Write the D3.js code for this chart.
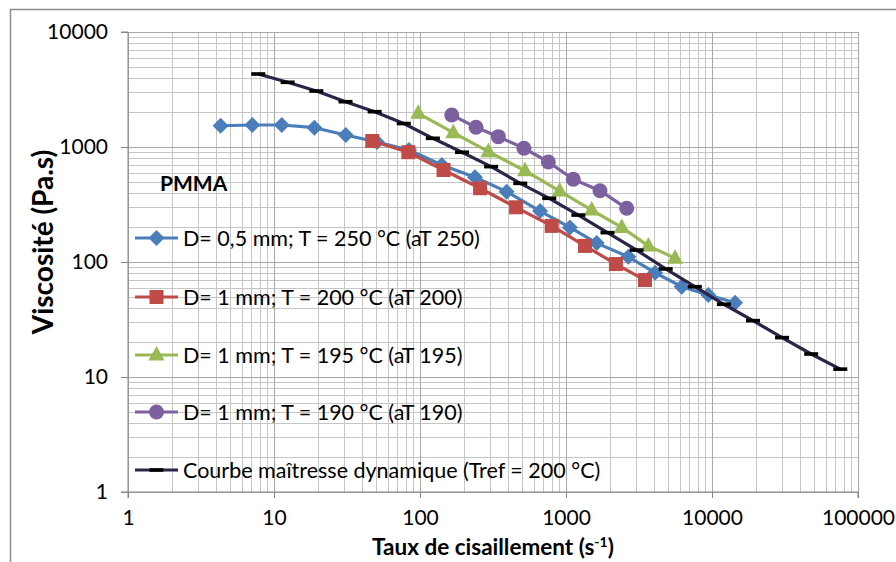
<!DOCTYPE html>
<html><head><meta charset="utf-8">
<script src="https://cdn.jsdelivr.net/npm/d3@7"></script>
<style>html,body{margin:0;padding:0;background:#fff;} svg{display:block;}</style>
</head><body>
<svg id="c" width="896" height="562"></svg>
<script>
const xTicks = [1, 10, 100, 1000, 10000, 100000];
const yTicks = [1, 10, 100, 1000, 10000];

const blueX = [4.31, 7.1, 11.3, 18.9, 31.0, 50.7, 84.1, 141, 238, 392, 664, 1064, 1623, 2673, 4073, 6200, 9437, 14380];
const blueY = [1531, 1553, 1553, 1472, 1270, 1105, 942, 697, 545, 409, 277, 200, 146, 111, 80.7, 61, 51.6, 44.3];

const redX = [47.1, 83.2, 145, 258, 455, 798, 1349, 2198, 3475];
const redY = [1128, 901, 631, 438, 299, 206, 138, 96, 69.7];

const greenX = [97.3, 169, 294, 524, 905, 1500, 2410, 3664, 5580];
const greenY = [1963, 1331, 910, 622, 414, 283, 200, 138, 108];

const purpleX = [165, 242, 344, 515, 757, 1122, 1709, 2604];
const purpleY = [1898, 1483, 1230, 975, 741, 524, 417, 293];

const masterX = [7.8, 12.4, 19.5, 30.9, 48.9, 77.4, 122.5, 194, 307, 486, 768, 1216, 1924, 3044, 4818, 7623, 12060, 19090, 30200, 47780, 75610];
const masterY = [4313, 3653, 3068, 2477, 2028, 1600, 1190, 900, 675, 483, 358, 256, 180, 127, 87, 61, 42.9, 30.9, 22, 15.85, 11.7];

const seriesNames = [
  "D= 0,5 mm; T = 250 °C (aT 250)",
  "D= 1 mm; T = 200 °C (aT 200)",
  "D= 1 mm; T = 195 °C (aT 195)",
  "D= 1 mm; T = 190 °C (aT 190)",
  "Courbe maîtresse dynamique (Tref = 200 °C)"
];

const series = [
  {name: seriesNames[0], xs: blueX, ys: blueY, color: "#4A7EBB", marker: "diamond"},
  {name: seriesNames[1], xs: redX, ys: redY, color: "#BE4B48", marker: "square"},
  {name: seriesNames[2], xs: greenX, ys: greenY, color: "#98B954", marker: "triangle"},
  {name: seriesNames[3], xs: purpleX, ys: purpleY, color: "#7D60A0", marker: "circle"},
  {name: seriesNames[4], xs: masterX, ys: masterY, color: "#2B2447", marker: "dash"}
];

const svg = d3.select("#c");
const FONT = "Lato, 'Open Sans', sans-serif";

const x = d3.scaleLog().domain([1, 100000]).range([128, 858]);
const y = d3.scaleLog().domain([1, 10000]).range([492, 32]);

// outer border
svg.append("rect").attr("x", 10.5).attr("y", 9.5).attr("width", 900).attr("height", 570)
  .attr("fill", "#fff").attr("stroke", "#8c8c8c").attr("stroke-width", 1.5);

// grid
const g = svg.append("g");
const minorVals = (lo, hi) => {
  const out = [];
  for (let d = lo; d < hi; d *= 10) for (let k = 2; k <= 9; k++) out.push(d * k);
  return out;
};
g.selectAll(".vx").data(minorVals(1, 100000)).join("line")
  .attr("x1", d => Math.round(x(d)) + 0.5).attr("x2", d => Math.round(x(d)) + 0.5)
  .attr("y1", y(10000)).attr("y2", y(1)).attr("stroke", "#c6c6c6").attr("stroke-width", 1);
g.selectAll(".vy").data(minorVals(1, 10000)).join("line")
  .attr("y1", d => Math.round(y(d)) + 0.5).attr("y2", d => Math.round(y(d)) + 0.5)
  .attr("x1", x(1)).attr("x2", x(100000)).attr("stroke", "#c6c6c6").attr("stroke-width", 1);
g.selectAll(".mx").data(xTicks).join("line")
  .attr("x1", d => Math.round(x(d)) + 0.5).attr("x2", d => Math.round(x(d)) + 0.5)
  .attr("y1", y(10000)).attr("y2", y(1)).attr("stroke", "#a8a8a8").attr("stroke-width", 1);
g.selectAll(".my").data(yTicks).join("line")
  .attr("y1", d => Math.round(y(d)) + 0.5).attr("y2", d => Math.round(y(d)) + 0.5)
  .attr("x1", x(1)).attr("x2", x(100000)).attr("stroke", "#a8a8a8").attr("stroke-width", 1);

// axes
const xAxis = d3.axisBottom(x).tickValues(xTicks).tickFormat(d3.format("d")).tickSize(6).tickPadding(12);
const yAxis = d3.axisLeft(y).tickValues(yTicks).tickFormat(d3.format("d")).tickSize(7).tickPadding(13);
const gx = svg.append("g").attr("transform", `translate(0,${y(1)})`).call(xAxis);
const gy = svg.append("g").attr("transform", `translate(${x(1)},0)`).call(yAxis);
[gx, gy].forEach(a => {
  a.select(".domain").attr("stroke", "#868686");
  a.selectAll(".tick line").attr("stroke", "#868686");
  a.selectAll("text").attr("font-family", FONT).attr("font-size", 21).attr("fill", "#000");
});
gy.select(".domain").attr("d", `M-7,${y(10000)}H0V${y(1)}H-7`);
gx.select(".domain").attr("d", `M${x(1)},6V0H${x(100000)}V6`);

// axis titles
const xt = svg.append("text").attr("x", 493).attr("y", 555).attr("text-anchor", "middle")
  .attr("font-family", FONT).attr("font-weight", "bold").attr("font-size", 22.5);
xt.append("tspan").text("Taux de cisaillement (s");
xt.append("tspan").attr("dy", -8).attr("font-size", 14).text("-1");
xt.append("tspan").attr("dy", 8).text(")");
svg.append("text").attr("transform", "translate(53,242) rotate(-90)").attr("text-anchor", "middle")
  .attr("font-family", FONT).attr("font-weight", "bold").attr("font-size", 28).text("Viscosité (Pa.s)");

// markers
function drawMarker(sel, type, color) {
  if (type === "diamond") {
    sel.append("path").attr("d", "M0,-8L8,0L0,8L-8,0Z").attr("fill", color);
  } else if (type === "square") {
    sel.append("rect").attr("x", -7).attr("y", -7).attr("width", 14).attr("height", 14).attr("fill", color);
  } else if (type === "triangle") {
    sel.append("path").attr("d", "M0,-9L8,5.5L-8,5.5Z").attr("fill", color);
  } else if (type === "circle") {
    sel.append("circle").attr("r", 7.5).attr("fill", color);
  } else if (type === "dash") {
    sel.append("rect").attr("x", -7).attr("y", -1.8).attr("width", 14).attr("height", 3.6).attr("fill", "#000");
  }
}

const line = d3.line().x(d => x(d[0])).y(d => y(d[1]));
series.forEach(s => {
  const pts = s.xs.map((v, i) => [v, s.ys[i]]);
  svg.append("path").datum(pts).attr("d", line).attr("fill", "none")
    .attr("stroke", s.color).attr("stroke-width", 3.2).attr("stroke-linejoin", "round");
  svg.append("g").selectAll("g").data(pts).join("g")
    .attr("transform", d => `translate(${x(d[0])},${y(d[1])})`)
    .each(function () { drawMarker(d3.select(this), s.marker, s.color); });
});

// legend
svg.append("text").attr("x", 160).attr("y", 191).attr("font-family", FONT).attr("font-weight", "bold")
  .attr("font-size", 21).text("PMMA");
const legY = [238, 297, 355, 412, 470];
series.forEach((s, i) => {
  const lg = svg.append("g").attr("transform", `translate(0,${legY[i]})`);
  lg.append("line").attr("x1", 135).attr("x2", 178).attr("y1", 0).attr("y2", 0)
    .attr("stroke", s.color).attr("stroke-width", 3.2);
  const m = lg.append("g").attr("transform", "translate(156.5,0)");
  drawMarker(m, s.marker, s.color);
  lg.append("text").attr("x", 183).attr("y", 7.5).attr("font-family", FONT).attr("font-size", 21.5)
    .attr("fill", "#000").text(s.name);
});
</script>
</body></html>
